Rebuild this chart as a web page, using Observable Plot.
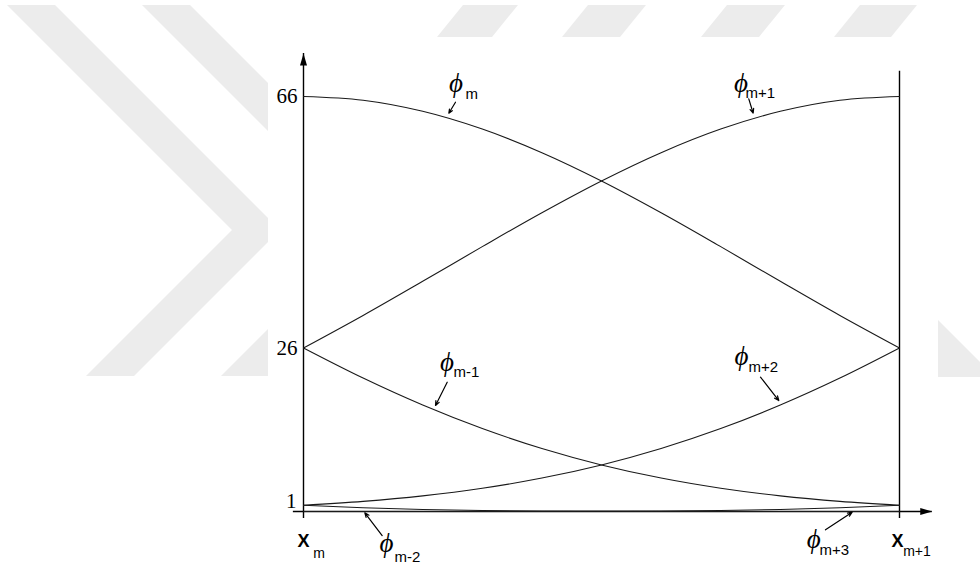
<!DOCTYPE html>
<html>
<head>
<meta charset="utf-8">
<script src="https://cdn.jsdelivr.net/npm/d3@7"></script>
<script src="https://cdn.jsdelivr.net/npm/@observablehq/plot@0.6"></script>
<style>
  html, body { margin: 0; padding: 0; background: #fff; }
  #wrap { position: relative; width: 980px; height: 567px; overflow: hidden; }
  #wrap > svg { position: absolute; left: 0; top: 0; }
</style>
</head>
<body>
<div id="wrap">
  <!-- faint background emblem behind the figure panel -->
  <svg id="emblem" width="980" height="567">
    <g fill="#ececec">
      <polygon points="7,5 55,5 280,230 134,376 86,376 232,230"/>
      <polygon points="142,5 190,5 415,230 269,376 221,376 367,230"/>
      <polygon points="463,5 518,5 492,37 437,37"/>
      <polygon points="588,5 646,5 620,37 562,37"/>
      <polygon points="727,5 785,5 759,37 701,37"/>
      <polygon points="860,5 917,5 891,37 834,37"/>
      <polygon points="938,320 995,377 938,377"/>
    </g>
    <rect x="268" y="37" width="670" height="530" fill="#fff"/>
  </svg>
</div>
<script>
// Local coordinate on one element [x_m, x_{m+1}]
const t = [0, 0.1, 0.2, 0.3, 0.4, 0.5, 0.6, 0.7, 0.8, 0.9, 1];

// Quintic B-spline basis values over the element (knot values 1, 26, 66, 26, 1)
const phiMminus2 = [1, 0.590, 0.328, 0.168, 0.078, 0.031, 0.010, 0.002, 0.000, 0.000, 0];
const phiMminus1 = [26, 21.218, 16.930, 13.190, 10.019, 7.406, 5.317, 3.698, 2.486, 1.610, 1];
const phiM       = [66, 65.403, 63.645, 60.819, 57.066, 52.563, 47.510, 42.122, 36.611, 31.178, 26];
const phiMplus1  = [26, 31.178, 36.611, 42.122, 47.510, 52.563, 57.066, 60.819, 63.645, 65.403, 66];
const phiMplus2  = [1, 1.610, 2.486, 3.698, 5.317, 7.406, 10.019, 13.190, 16.930, 21.218, 26];
const phiMplus3  = [0, 0.000, 0.000, 0.002, 0.010, 0.031, 0.078, 0.168, 0.328, 0.590, 1];

const seriesNames = ["m-2", "m-1", "m", "m+1", "m+2", "m+3"];
const seriesValues = [phiMminus2, phiMminus1, phiM, phiMplus1, phiMplus2, phiMplus3];

// Value-axis labels
const yTickLabels = [1, 26, 66];

// Curve annotations (in t / value units): symbol, subscript, pointer arrow
const noteSymbolT = [0.1393, 0.2408, 0.2559, 0.7341, 0.7349, 0.8562];
const noteSymbolV = [-5.01, 23.78, 68.07, 68.15, 24.73, -4.45];
const noteSubT    = [0.1527, 0.2517, 0.2718, 0.7416, 0.7466, 0.8658];
const noteSubV    = [-7.32, 22.11, 66.43, 66.56, 22.90, -6.20];
const arrowFromT  = [0.1320, 0.2411, 0.2550, 0.7471, 0.7668, 0.8758];
const arrowFromV  = [-3.82, 20.56, 65.09, 65.63, 21.36, -2.91];
const arrowToT    = [0.1029, 0.2215, 0.2438, 0.7545, 0.7975, 0.9206];
const arrowToV    = [-0.21, 16.86, 63.34, 63.34, 17.65, -0.11];

// Node labels under the horizontal axis
const nodeSubs = ["m", "m+1"];
const nodeT    = [0, 0.9966];
const nodeV    = [-4.77, -4.77];
const nodeSubT = [0.0163, 1.0062];
const nodeSubV = [-6.76, -6.36];

// Axis extents
const xAxisFrom = -0.017, xAxisTo = 1.055;
const yAxisFrom = -1.11, yAxisTo = 72.84, rightEdgeTo = 70.02;

const curves = seriesNames.flatMap((name, i) =>
  t.map((ti, j) => ({name, t: ti, v: seriesValues[i][j]}))
);
const notes = seriesNames.map((name, i) => ({
  name,
  st: noteSymbolT[i], sv: noteSymbolV[i],
  bt: noteSubT[i], bv: noteSubV[i],
  x1: arrowFromT[i], y1: arrowFromV[i],
  x2: arrowToT[i], y2: arrowToV[i]
}));
const nodes = nodeSubs.map((sub, i) => ({sub, t: nodeT[i], v: nodeV[i], bt: nodeSubT[i], bv: nodeSubV[i]}));

// Filled, narrow arrowhead with its tip at the origin, pointing up
const arrowHead = {
  draw(ctx) {
    ctx.moveTo(0, 0);
    ctx.lineTo(3.5, 12);
    ctx.lineTo(-3.5, 12);
    ctx.closePath();
  }
};

const serif = "'Liberation Serif', 'Times New Roman', serif";
const sans = "'Liberation Sans', Arial, Helvetica, sans-serif";

const chart = Plot.plot({
  width: 980,
  height: 567,
  marginLeft: 303,
  marginRight: 81,
  marginTop: 96,
  marginBottom: 56,
  x: {domain: [0, 1], axis: null},
  y: {domain: [0, 66], axis: null},
  style: {background: "transparent", overflow: "visible"},
  marks: [
    // axes and right boundary of the element
    Plot.ruleX([0], {y1: yAxisFrom, y2: yAxisTo, stroke: "#000", strokeWidth: 1.4}),
    Plot.ruleX([1], {y1: yAxisFrom, y2: rightEdgeTo, stroke: "#000", strokeWidth: 1.4}),
    Plot.ruleY([0], {x1: xAxisFrom, x2: xAxisTo, stroke: "#000", strokeWidth: 1.4}),
    Plot.dot([0], {x: 0, y: yAxisTo, symbol: arrowHead, fill: "#000", stroke: "none"}),
    Plot.dot([0], {x: xAxisTo, y: 0, symbol: arrowHead, rotate: 90, fill: "#000", stroke: "none"}),

    // basis functions
    Plot.line(curves, {x: "t", y: "v", z: "name", curve: "catmull-rom", stroke: "#1a1a1a", strokeWidth: 1.1}),

    // value labels
    Plot.text(yTickLabels.filter(d => d !== 1), {x: 0, y: d => d, text: d => String(d), textAnchor: "end", dx: -6, fontFamily: serif, fontSize: 21, fill: "#000"}),
    Plot.text(yTickLabels.filter(d => d === 1), {x: 0, y: d => d, text: d => String(d), textAnchor: "end", dx: -7, dy: -4, fontFamily: serif, fontSize: 21, fill: "#000"}),

    // node labels
    Plot.text(nodes, {x: "t", y: "v", text: () => "X", textAnchor: "middle", fontFamily: sans, fontSize: 18, fontWeight: "bold", fill: "#000"}),
    Plot.text(nodes, {x: "bt", y: "bv", text: "sub", textAnchor: "start", fontFamily: sans, fontSize: 14, fill: "#000"}),

    // curve annotations
    Plot.arrow(notes, {x1: "x1", y1: "y1", x2: "x2", y2: "y2", stroke: "#000", strokeWidth: 1.2, headLength: 6, headAngle: 45}),
    Plot.text(notes, {x: "st", y: "sv", text: () => "\u03D5", textAnchor: "middle", fontFamily: serif, fontStyle: "italic", fontSize: 27, fill: "#000"}),
    Plot.text(notes, {x: "bt", y: "bv", text: "name", textAnchor: "start", fontFamily: sans, fontSize: 15, fill: "#000"})
  ]
});

document.getElementById("wrap").appendChild(chart);
</script>
</body>
</html>
